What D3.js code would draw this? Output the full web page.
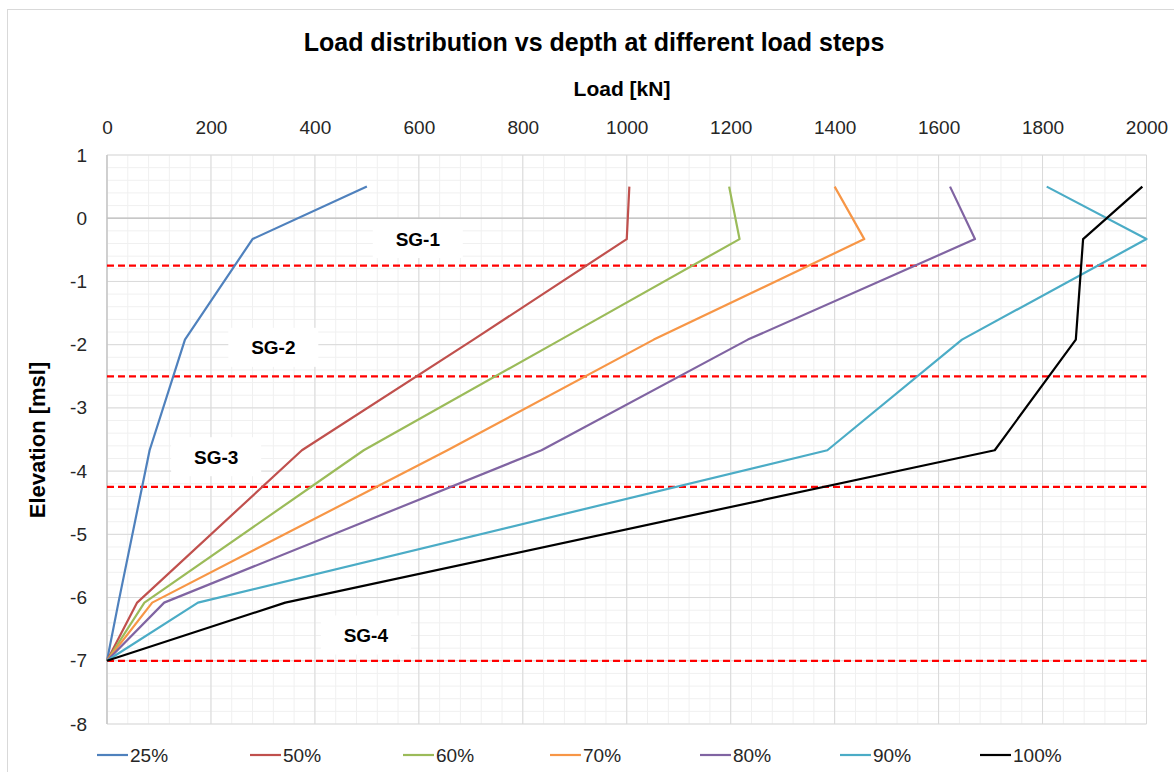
<!DOCTYPE html>
<html>
<head>
<meta charset="utf-8">
<script src="https://cdn.jsdelivr.net/npm/d3@7"></script>
<style>
  body { margin: 0; background: #fff; }
  svg text { font-family: "Liberation Sans", Arial, sans-serif; }
</style>
</head>
<body>
<div id="chart"></div>
<script>
// elevation of each strain gauge level [msl]
const elevations = [0.5, -0.33, -1.92, -3.67, -6.08, -7.0];

// load [kN] at each elevation, per load step
const load25 = [500, 280, 150, 82, 22, 0];
const load50 = [1005, 1000, 705, 375, 58, 0];
const load60 = [1197, 1217, 873, 494, 72, 0];
const load70 = [1400, 1457, 1052, 655, 87, 0];
const load80 = [1622, 1670, 1233, 836, 110, 0];
const load90 = [1808, 2000, 1645, 1386, 175, 0];
const load100 = [1992, 1878, 1864, 1708, 343, 0];

const seriesNames = ['25%', '50%', '60%', '70%', '80%', '90%', '100%'];
const seriesLoads = [load25, load50, load60, load70, load80, load90, load100];
const colors = ['#4F81BD', '#C0504D', '#9BBB59', '#F79646', '#8064A2', '#4BACC6', '#000000'];

// strain gauge boundaries and labels
const boundaries = [-0.75, -2.5, -4.25, -7.0];
const sgLabels = ['SG-1', 'SG-2', 'SG-3', 'SG-4'];
const sgLoad = [598, 320, 210, 498];
const sgElev = [-0.33, -2.05, -3.78, -6.6];

const xTicks = d3.range(0, 2001, 200);
const yTicks = d3.range(1, -8.01, -1);

const W = 1174, H = 772;
const margin = {top: 155, right: 27.5, bottom: 48, left: 107};
const width = W - margin.left - margin.right;
const height = H - margin.top - margin.bottom;

const svg = d3.select('#chart').append('svg')
  .attr('width', W)
  .attr('height', H);

// chart border
svg.append('rect')
  .attr('x', 7.5).attr('y', 9.5)
  .attr('width', W - 4).attr('height', H + 10)
  .attr('fill', 'none').attr('stroke', '#d9d9d9');

const g = svg.append('g')
  .attr('transform', 'translate(' + margin.left + ',' + margin.top + ')');

const x = d3.scaleLinear().domain([0, 2000]).range([0, width]);
const y = d3.scaleLinear().domain([1, -8]).range([0, height]);

// minor grid
g.append('g').selectAll('line')
  .data(d3.range(0, 2001, 40))
  .enter().append('line')
    .attr('x1', d => x(d)).attr('x2', d => x(d))
    .attr('y1', 0).attr('y2', height)
    .attr('stroke', '#f0f0f0').attr('stroke-width', 1);
g.append('g').selectAll('line')
  .data(d3.range(0, 46).map(i => 1 - i * 0.2))
  .enter().append('line')
    .attr('y1', d => y(d)).attr('y2', d => y(d))
    .attr('x1', 0).attr('x2', width)
    .attr('stroke', '#f0f0f0').attr('stroke-width', 1);

// major grid
g.append('g').selectAll('line')
  .data(xTicks)
  .enter().append('line')
    .attr('x1', d => x(d)).attr('x2', d => x(d))
    .attr('y1', 0).attr('y2', height)
    .attr('stroke', '#d9d9d9').attr('stroke-width', 1);
g.append('g').selectAll('line')
  .data(yTicks)
  .enter().append('line')
    .attr('y1', d => y(d)).attr('y2', d => y(d))
    .attr('x1', 0).attr('x2', width)
    .attr('stroke', '#d9d9d9').attr('stroke-width', 1);

// axis lines (x axis crosses at 0)
g.append('line')
  .attr('x1', 0).attr('x2', width)
  .attr('y1', y(0)).attr('y2', y(0))
  .attr('stroke', '#bfbfbf').attr('stroke-width', 1.2);
g.append('line')
  .attr('x1', x(0)).attr('x2', x(0))
  .attr('y1', 0).attr('y2', height)
  .attr('stroke', '#bfbfbf').attr('stroke-width', 1.2);

// tick labels
const plain = d => String(Math.round(d));

const xAxis = g.append('g')
  .attr('transform', 'translate(0,-21)')
  .call(d3.axisTop(x).tickValues(xTicks).tickSize(0).tickPadding(0).tickFormat(plain));
xAxis.select('.domain').remove();
xAxis.selectAll('text')
  .attr('font-size', 19).attr('fill', '#262626')
  .style('font-family', '"Liberation Sans", Arial, sans-serif');

const yAxis = g.append('g')
  .attr('transform', 'translate(-20,0)')
  .call(d3.axisLeft(y).tickValues(yTicks).tickSize(0).tickPadding(0).tickFormat(plain));
yAxis.select('.domain').remove();
yAxis.selectAll('text')
  .attr('font-size', 19).attr('fill', '#262626')
  .style('font-family', '"Liberation Sans", Arial, sans-serif');

// boundaries
g.append('g').selectAll('line')
  .data(boundaries)
  .enter().append('line')
    .attr('x1', 0).attr('x2', width)
    .attr('y1', d => y(d)).attr('y2', d => y(d))
    .attr('stroke', '#ff0000').attr('stroke-width', 2.2)
    .attr('stroke-dasharray', '7,4');

// SG labels
const sg = g.append('g').selectAll('g')
  .data(sgLabels)
  .enter().append('g')
    .attr('transform', (d, i) => 'translate(' + x(sgLoad[i]) + ',' + y(sgElev[i]) + ')');
sg.append('rect')
  .attr('x', -45).attr('y', -20).attr('width', 90).attr('height', 39)
  .attr('fill', '#fff');
sg.append('text')
  .attr('text-anchor', 'middle').attr('dy', '0.35em')
  .attr('font-size', 19).attr('font-weight', 'bold').attr('fill', '#000')
  .text(d => d);

// series lines
const line = d3.line()
  .x(d => x(d[0]))
  .y(d => y(d[1]));

g.append('g').selectAll('path')
  .data(seriesLoads)
  .enter().append('path')
    .attr('d', loads => line(loads.map((v, i) => [v, elevations[i]])))
    .attr('fill', 'none')
    .attr('stroke', (d, i) => colors[i])
    .attr('stroke-width', 2.2)
    .attr('stroke-linejoin', 'round');

// titles
svg.append('text')
  .attr('x', 594).attr('y', 51)
  .attr('text-anchor', 'middle')
  .attr('font-size', 25).attr('font-weight', 'bold').attr('fill', '#000')
  .text('Load distribution vs depth at different load steps');

svg.append('text')
  .attr('x', 622).attr('y', 96)
  .attr('text-anchor', 'middle')
  .attr('font-size', 21).attr('font-weight', 'bold').attr('fill', '#000')
  .text('Load [kN]');

svg.append('text')
  .attr('transform', 'translate(45,440) rotate(-90)')
  .attr('text-anchor', 'middle')
  .attr('font-size', 22).attr('font-weight', 'bold').attr('fill', '#000')
  .text('Elevation [msl]');

// legend
const legendX = [97, 250, 403, 550, 700, 840, 980];
const legend = svg.append('g').selectAll('g')
  .data(seriesNames)
  .enter().append('g')
    .attr('transform', (d, i) => 'translate(' + legendX[i] + ',755)');
legend.append('line')
  .attr('x1', 0).attr('x2', 31)
  .attr('stroke', (d, i) => colors[i]).attr('stroke-width', 2.2);
legend.append('text')
  .attr('x', 33).attr('dy', '0.35em')
  .attr('font-size', 19).attr('fill', '#262626')
  .text(d => d);
</script>
</body>
</html>
